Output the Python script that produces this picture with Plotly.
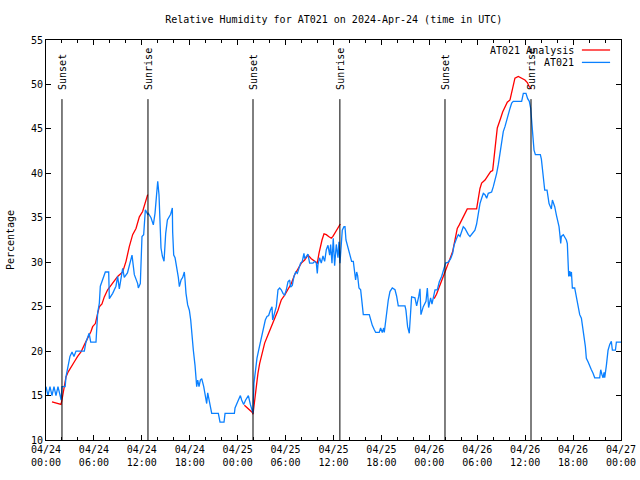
import pandas as pd
import plotly.graph_objects as go

# ---------------- data ----------------
BASE = pd.Timestamp("2024-04-24 00:00")

obs_hours = [
    0.0, 0.25, 0.5, 0.75, 1.0, 1.25, 1.5, 1.75, 1.9, 2.0, 2.4, 2.5, 2.75, 3.0, 3.26, 3.5, 3.76, 4.8, 5.0, 5.4,
    5.6, 6.26, 6.47, 6.68, 6.8, 7.43, 7.85, 7.93, 8.35, 8.76, 8.97, 9.18, 9.6, 9.8, 10.2, 10.77, 11.06, 11.48,
    11.56, 11.81, 12.02, 12.23, 12.44, 12.73, 12.82, 13.15, 13.44, 13.65, 13.86, 13.99, 14.15, 14.28, 14.4,
    14.57, 14.78, 14.99, 15.2, 15.61, 15.82, 15.86, 15.99, 16.16, 16.36, 16.57, 16.7, 16.91, 17.12, 17.32,
    17.41, 17.53, 17.74, 17.95, 18.12, 18.24, 18.45, 18.66, 18.79, 18.87, 19.0, 19.16, 19.33, 19.5, 19.75,
    19.91, 20.12, 20.25, 20.41, 20.54, 20.75, 21.58, 21.79, 22.29, 22.42, 23.59, 23.67, 24.0, 24.34, 24.5,
    24.75, 25.0, 25.34, 25.59, 25.84, 25.92, 26.04, 26.21, 26.42, 26.63, 26.83, 27.04, 27.25, 27.46, 27.67,
    27.88, 28.09, 28.3, 28.38, 28.63, 28.84, 29.05, 29.26, 29.46, 29.67, 29.88, 30.09, 30.3, 30.51, 30.63,
    30.84, 31.05, 31.26, 31.47, 31.68, 31.88, 32.09, 32.3, 32.39, 32.59, 32.8, 33.01, 33.43, 33.64, 33.85,
    33.97, 34.05, 34.26, 34.47, 34.68, 34.89, 35.1, 35.31, 35.52, 35.64, 35.81, 35.97, 36.14, 36.35, 36.56,
    36.68, 36.81, 37.1, 37.31, 37.44, 37.56, 37.73, 37.94, 38.06, 38.27, 38.48, 38.6, 38.77, 38.9, 39.02,
    39.19, 39.4, 39.52, 39.61, 39.73, 40.48, 40.65, 40.86, 41.11, 41.28, 41.73, 41.9, 42.11, 42.28, 42.36,
    42.53, 42.65, 42.86, 43.07, 43.36, 43.7, 43.9, 44.11, 44.95, 45.07, 45.28, 45.49, 45.66, 45.78, 46.2,
    46.41, 46.66, 46.83, 46.95, 47.24, 47.58, 47.75, 47.91, 48.16, 48.33, 48.5, 48.71, 49.0, 49.25, 49.54,
    49.83, 50.04, 50.38, 50.67, 50.92, 51.09, 51.42, 51.63, 51.84, 52.05, 52.25, 52.46, 52.67, 52.88, 53.09,
    53.3, 53.51, 53.71, 53.92, 54.13, 54.34, 54.55, 54.76, 54.97, 55.18, 55.38, 55.8, 56.01, 56.22, 56.43,
    56.64, 56.85, 57.05, 57.26, 57.47, 57.68, 57.89, 58.1, 58.31, 58.51, 59.56, 59.77, 60.1, 60.31, 60.52,
    60.69, 60.86, 60.99, 61.11, 61.28, 61.9, 62.03, 62.15, 62.32, 62.45, 62.74, 62.86, 62.99, 63.16, 63.28,
    63.41, 63.57, 63.7, 63.91, 64.12, 64.24, 64.37, 64.45, 64.53, 64.78, 65.16, 65.28, 65.37, 65.45, 65.58,
    65.66, 65.79, 65.91, 66.2, 66.33, 66.5, 66.62, 66.83, 67.04, 67.25, 67.37, 67.54, 67.66, 67.87, 68.08,
    68.29, 68.5, 68.71, 69.33, 69.46, 69.63, 69.75, 69.88, 69.96, 70.17, 70.38, 70.59, 70.79, 70.92, 71.3,
    71.42, 72.0,
]
obs_values = [
    16, 15, 16, 15, 16, 15, 16, 15, 14.5, 16, 16, 17.1, 18.2, 19.4, 19.9, 19.4, 20, 20, 21, 22,
    21, 21, 24.3, 25.4, 27.3, 28.9, 28.9, 25.9, 26.5, 27.3, 28.4, 27.0, 29.3, 28.3, 28.8, 30.8, 28.6, 27.6,
    27.1, 27.6, 32.9, 33.1, 35.9, 35.4, 35.5, 35.0, 34.2, 35.5, 37.75, 39.1, 37.6, 33.25, 31.6,
    30.7, 30.1, 33.25, 34.75, 35.4, 36.1, 33.4, 30.8, 30.5, 29.5, 28.3, 27.25, 28.0, 28.3, 28.9,
    28.0, 26.5, 25.2, 24.6, 23.5, 22.0, 20.1, 18.4, 16.75, 16.0, 16.75, 16.0, 16.75, 16.9, 16.0,
    14.9, 14.1, 15.3, 14.6, 13.75, 13.0, 13.0, 12.0, 12.0, 13.0, 13.0, 13.6, 14.3, 15.0, 14.5,
    14.0, 14.5, 15.0, 14.0, 13.2, 13.0, 16.4, 17.9, 19.2, 20.1, 20.9, 21.6, 22.6, 23.5, 23.9,
    24.0, 24.6, 25.0, 23.5, 24.2, 25.0, 26.9, 27.1, 26.9, 26.5, 26.3, 26.9, 27.8, 28.0, 27.2,
    27.4, 28.4, 28.9, 28.75, 29.5, 29.9, 30.1, 31.0, 30.4, 30.6, 30.9, 29.9, 29.9, 30.1, 29.9,
    28.75, 29.7, 30.5, 29.9, 30.7, 30.1, 31.4, 31.9, 30.8, 32.0, 29.9, 32.7, 29.6, 32.0, 30.5,
    32.3, 29.9, 33.6, 34.0, 34.0, 32.5, 31.9, 31.2, 30.6, 30.1, 30.1, 29.1, 28.0, 28.9, 28.5,
    27.1, 26.9, 25.9, 24.8, 24.1, 24.1, 23.5, 22.9, 22.4, 22.1, 22.1, 22.6, 22.1, 22.6, 22.1,
    23.5, 24.6, 25.75, 26.7, 27.1, 26.9, 26.2, 25.1, 25.1, 24.6, 22.75, 22.0, 24.6, 26.1, 26.0,
    25.1, 26.1, 27.0, 24.1, 25.0, 25.6, 27.1, 24.9, 26.0, 25.3, 25.9, 26.9, 26.9, 27.8, 28.4,
    29.3, 29.9, 30.0, 30.4, 31.0, 31.9, 32.7, 33.1, 32.9, 33.6, 34.0, 33.8, 33.4, 33.1, 32.9,
    33.1, 33.3, 33.6, 34.3, 35.5, 36.6, 37.2, 37.75, 37.6, 37.2, 37.75, 37.9, 38.5, 39.2, 40.0,
    41.0, 42.25, 43.4, 44.7, 45.25, 46.0, 46.9, 47.3, 47.9, 48.1, 48.1, 49.0, 49.0, 48.4, 48.1,
    47.3, 45.4, 43.9, 42.6, 42.1, 42.1, 41.6, 40.6, 39.25, 38.1, 38.1, 37.5, 36.6, 36.25, 36.0,
    37.0, 36.6, 36.25, 35.3, 34.6, 34.0, 32.9, 32.1, 32.9, 33.1, 32.5, 32.1, 30.1, 28.4, 29.0,
    28.4, 28.9, 27.1, 27.1, 26.5, 25.75, 25.0, 24.1, 23.7, 22.6, 21.6, 20.5, 19.2, 18.8, 18.25,
    17.9, 17.5, 17.0, 17.0, 17.9, 17.3, 17.0, 17.6, 17.0, 18.4, 20.1, 20.75, 21.1, 20.1, 20.1,
    21.0, 21.0,
]

# Analysis: three overnight segments (None = gap)
ana_hours = [
    0.75, 1.67, 1.88, 2.0, 2.17, 2.38, 2.5, 2.8, 3.13, 3.55, 3.96, 4.38, 4.8, 5.22, 5.63, 5.84, 6.18, 6.47,
    6.68, 7.01, 7.3, 7.72, 8.14, 8.56, 8.97, 9.6, 10.02, 10.43, 10.85, 11.27, 11.69, 12.1, 12.52, 12.73,
    12.8,
    24.84, 25.84, 25.92, 26.12, 26.33, 26.54, 26.75, 26.96, 27.17, 27.38, 27.79, 28.21, 28.63, 29.05, 29.26,
    29.46, 29.88, 30.3, 30.72, 31.13, 31.55, 31.97, 32.39, 32.8, 33.22, 33.64, 33.97, 34.18, 34.39, 34.56,
    34.81, 35.1, 35.39, 35.72, 35.93, 36.14, 36.35, 36.56, 36.85,
    36.9,
    48.6, 48.9, 49.25, 49.54, 49.96, 50.38, 50.67, 50.92, 51.21, 51.5, 51.75, 52.05, 52.46, 52.75, 53.92,
    54.13, 54.34, 54.55, 54.97, 55.38, 55.68, 55.93, 56.09, 56.3, 56.51, 56.72, 56.93, 57.18, 57.47, 57.76,
    58.1, 58.31, 58.51, 58.72, 59.14, 59.56, 59.97, 60.27, 60.52, 60.81,
]
ana_values = [
    14.3, 14.05, 14.0, 14.5, 15.25, 16.4, 17.1, 17.7, 18.25, 18.8, 19.4, 19.9, 20.7, 21.4, 22.2, 22.75, 23.1, 24.25,
    25.0, 25.3, 26.1, 26.9, 27.4, 27.8, 28.4, 28.9, 30.1, 31.75, 33.1, 33.8, 35.1, 35.7, 37.0, 37.6,
    None,
    13.9, 13.1, 12.9, 14.5, 16.4, 17.5, 18.6, 19.4, 20.1, 20.9, 21.8, 22.75, 23.5, 24.6, 25.2,
    25.75, 26.3, 26.9, 27.6, 28.6, 29.3, 29.9, 30.25, 30.8, 30.4, 30.1, 29.9, 31.0, 31.9, 32.5,
    33.2, 33.1, 32.9, 32.7, 32.9, 33.2, 33.6, 33.9, 34.3,
    None,
    25.9, 26.4, 27.25, 28.0, 28.9, 29.9, 30.6, 31.2, 32.5, 33.8, 34.2, 34.75, 35.5, 36.0, 36.0,
    37.4, 38.3, 38.9, 39.25, 39.8, 40.2, 40.3, 41.9, 43.4, 45.1, 45.8, 46.2, 46.9, 47.5, 48.0,
    48.25, 49.0, 49.9, 50.7, 50.9, 50.7, 50.5, 50.2, 49.75, 49.5,
]

sun_hours = [2.0, 12.77, 25.92, 36.8, 49.96, 60.73]
sun_labels = ["Sunset", "Sunrise", "Sunset", "Sunrise", "Sunset", "Sunrise"]
sun_line_top = 48.35
sun_label_base = 49.15

series_names = ["AT021 Analysis", "AT021"]
series_colors = ["#ff0000", "#0a80ff"]

y_ticks = [10, 15, 20, 25, 30, 35, 40, 45, 50, 55]

# ---------------- figure ----------------
def to_time(hours):
    return [BASE + pd.to_timedelta(h, unit="h") for h in hours]

FONT = "DejaVu Sans Mono"

fig = go.Figure()
fig.add_trace(go.Scatter(x=to_time(ana_hours), y=ana_values, mode="lines",
                         line=dict(color=series_colors[0], width=1.3),
                         name=series_names[0], connectgaps=False))
fig.add_trace(go.Scatter(x=to_time(obs_hours), y=obs_values, mode="lines",
                         line=dict(color=series_colors[1], width=1.3),
                         name=series_names[1]))

for h, lab in zip(sun_hours, sun_labels):
    t = BASE + pd.to_timedelta(h, unit="h")
    fig.add_shape(type="line", xref="x", yref="y", x0=t, x1=t, y0=y_ticks[0], y1=sun_line_top,
                  line=dict(color="black", width=1))
    fig.add_annotation(x=t, y=sun_label_base, xref="x", yref="y", text=lab, textangle=-90,
                       showarrow=False, xanchor="center", yanchor="bottom",
                       font=dict(family=FONT, size=10, color="black"))

# manual gnuplot-style legend (text right, sample line at right)
legend_rows_y = [0.975, 0.944]
for name, col, yy in zip(series_names, series_colors, legend_rows_y):
    fig.add_annotation(x=0.921, y=yy, xref="paper", yref="paper", text=name, showarrow=False,
                       xanchor="right", yanchor="middle",
                       font=dict(family=FONT, size=10, color="black"))
    fig.add_shape(type="line", xref="paper", yref="paper", x0=0.932, x1=0.981, y0=yy, y1=yy,
                  line=dict(color=col, width=1.3))

fig.update_layout(
    width=640, height=480,
    margin=dict(l=46, r=19, t=40, b=40, autoexpand=False),
    paper_bgcolor="white", plot_bgcolor="white",
    showlegend=False,
    font=dict(family=FONT, size=10, color="black"),
    title=dict(text="Relative Humidity for AT021 on 2024-Apr-24 (time in UTC)",
               x=0.5216, xanchor="center", y=1 - 19 / 480, yanchor="middle",
               font=dict(family=FONT, size=10, color="black")),
)
fig.update_xaxes(
    type="date", automargin=False,
    range=[BASE, BASE + pd.Timedelta(hours=72)],
    tick0=BASE, dtick=6 * 3600 * 1000,
    tickformat="%m/%d<br>%H:%M",
    ticks="inside", ticklen=5, tickcolor="black",
    minor=dict(dtick=2 * 3600 * 1000, ticks="inside", ticklen=3, tickcolor="black"),
    showline=True, linecolor="black", linewidth=1, mirror="ticks",
    showgrid=False, zeroline=False,
    tickfont=dict(family=FONT, size=10, color="black"),
)
fig.update_yaxes(
    range=[10, 55], tickvals=y_ticks, automargin=False,
    ticks="inside", ticklen=5, tickcolor="black",
    showline=True, linecolor="black", linewidth=1, mirror="ticks",
    showgrid=False, zeroline=False,
    title=dict(text="Percentage", standoff=14, font=dict(family=FONT, size=10, color="black")),
    tickfont=dict(family=FONT, size=10, color="black"),
)

fig.write_html("out.html",
               config={"displayModeBar": False},
               post_script="document.body.style.margin='0';document.body.style.overflow='hidden';")
